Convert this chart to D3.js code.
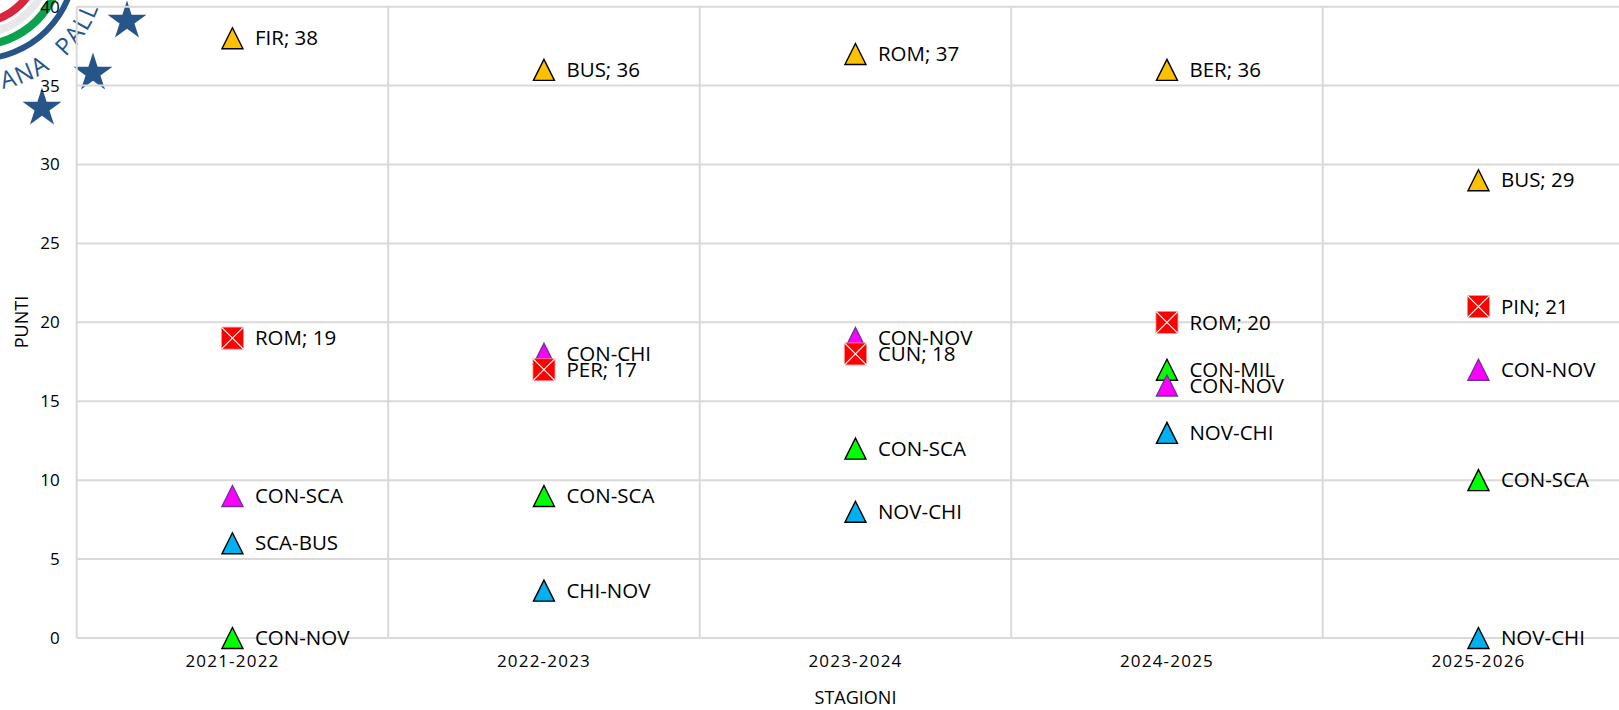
<!DOCTYPE html>
<html><head><meta charset="utf-8">
<script src="https://cdn.jsdelivr.net/npm/d3@7/dist/d3.min.js"></script>
<style>html,body{margin:0;padding:0;background:#fff;overflow:hidden}svg{display:block}text{font-family:"Open Sans",sans-serif;fill:#000}</style>
</head><body><svg id="c" width="1619" height="710"></svg>
<script>
const seasons = ["2021-2022","2022-2023","2023-2024","2024-2025","2025-2026"];
const yTicks = [0,5,10,15,20,25,30,35,40];
const topValues = [38,36,37,36,29];
const topLabels = ["FIR; 38","BUS; 36","ROM; 37","BER; 36","BUS; 29"];
const blueValues = [6,3,8,13,0];
const blueLabels = ["SCA-BUS","CHI-NOV","NOV-CHI","NOV-CHI","NOV-CHI"];
const greenValues = [0,9,12,17,10];
const greenLabels = ["CON-NOV","CON-SCA","CON-SCA","CON-MIL","CON-SCA"];
const magentaValues = [9,18,19,16,17];
const magentaLabels = ["CON-SCA","CON-CHI","CON-NOV","CON-NOV","CON-NOV"];
const redValues = [19,17,18,20,21];
const redLabels = ["ROM; 19","PER; 17","CUN; 18","ROM; 20","PIN; 21"];

const svg = d3.select("#c");
const x = d3.scaleBand().domain(seasons).range([76.7, 1634.2]);
const y = d3.scaleLinear().domain([0,40]).range([638, 6.7]);
const GRID = "#d9d9d9";

// logo fragment, behind the chart
const logo = svg.append("g");
const cx = -22, cy = -38;
[[60,8,"#d9263f"],[71,8,"#e8e8e8"],[83,8,"#0ba24f"],[97,6,"#27558a"]].forEach(([r,w,c]) => {
  logo.append("circle").attr("cx",cx).attr("cy",cy).attr("r",r).attr("fill","none").attr("stroke",c).attr("stroke-width",w);
});
const arc = d3.path();
arc.arc(cx,cy,129,79*Math.PI/180,-8*Math.PI/180,true);
logo.append("path").attr("id","logoArc").attr("d",arc.toString()).attr("fill","none");
logo.append("text").style("font-family","'Open Sans',sans-serif").style("fill","#27558a")
  .attr("font-size",24).attr("letter-spacing",1.6).attr("word-spacing",10)
  .append("textPath").attr("href","#logoArc").text("ANA PALL");
const star = d3.symbol().type(d3.symbolStar).size(470);
[[127,20],[93,72],[42,107]].forEach(([a,b]) => {
  logo.append("path").attr("d",star()).attr("transform",`translate(${a},${b+1})`).attr("fill","#27558a");
});

// grid
const grid = svg.append("g").attr("stroke",GRID).attr("stroke-width",2);
grid.selectAll("line.h").data(yTicks).join("line").attr("class","h")
  .attr("x1",x.range()[0]).attr("x2",1619).attr("y1",d=>y(d)).attr("y2",d=>y(d));
grid.selectAll("line.v").data(seasons).join("line").attr("class","v")
  .attr("x1",d=>x(d)).attr("x2",d=>x(d)).attr("y1",y(40)).attr("y2",y(0));

// axes
const yAxis = svg.append("g").attr("transform",`translate(${x.range()[0]},0)`)
  .call(d3.axisLeft(y).tickValues(yTicks).tickSize(0).tickPadding(17));
yAxis.select(".domain").remove();
yAxis.selectAll("text").attr("font-size",17).style("font-family","'Open Sans',sans-serif");
const xAxis = svg.append("g").attr("transform",`translate(0,${y(0)})`)
  .call(d3.axisBottom(x).tickSize(0).tickPadding(17));
xAxis.select(".domain").remove();
xAxis.selectAll("text").attr("font-size",17).attr("letter-spacing",1.2).style("font-family","'Open Sans',sans-serif");

svg.append("text").attr("x",855.5).attr("y",704).attr("text-anchor","middle").attr("font-size",18).text("STAGIONI");
svg.append("text").attr("transform","translate(28,322) rotate(-90)").attr("text-anchor","middle").attr("font-size",18).text("PUNTI");

// marks
const tri = d3.line()([[0,-10.5],[10.5,10.5],[-10.5,10.5]]) + "Z";
const series = [
  {v:topValues,l:topLabels,fill:"#ffc000",stroke:"#000"},
  {v:blueValues,l:blueLabels,fill:"#00b0f0",stroke:"#000"},
  {v:greenValues,l:greenLabels,fill:"#00ff00",stroke:"#000"},
  {v:magentaValues,l:magentaLabels,fill:"#ff00ff",stroke:"#7030a0"},
  {v:redValues,l:redLabels,fill:"#ff0000",square:true}
];
const px = i => x(seasons[i]) + x.bandwidth()/2;
series.forEach(s => {
  const g = svg.append("g");
  const m = g.selectAll("g").data(s.v).join("g").attr("transform",(d,i)=>`translate(${px(i)},${y(d)})`);
  if (s.square) {
    m.append("rect").attr("x",-11).attr("y",-11).attr("width",22).attr("height",22)
      .attr("fill",s.fill).attr("stroke","#ff9090").attr("stroke-width",0.8);
    m.append("path").attr("d",d3.line()([[-11,-11],[11,11]])+d3.line()([[11,-11],[-11,11]]))
      .attr("stroke","#fff").attr("stroke-width",1.1).attr("fill","none");
  } else {
    m.append("path").attr("d",tri).attr("fill",s.fill).attr("stroke",s.stroke).attr("stroke-width",1.4).attr("stroke-linejoin","miter");
  }
});
series.forEach(s => {
  svg.append("g").selectAll("text").data(s.v).join("text")
    .attr("x",(d,i)=>px(i)+22.5).attr("y",d=>y(d)).attr("dy","0.35em").attr("font-size",20.5)
    .text((d,i)=>s.l[i]);
});
</script></body></html>
